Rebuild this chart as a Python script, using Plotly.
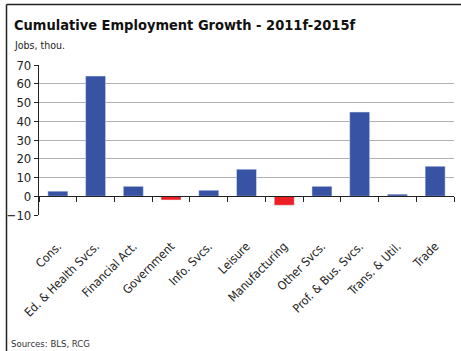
import plotly.graph_objects as go

categories = ["Cons.", "Ed. & Health Svcs.", "Financial Act.", "Government",
              "Info. Svcs.", "Leisure", "Manufacturing", "Other Svcs.",
              "Prof. & Bus. Svcs.", "Trans. & Util.", "Trade"]
jobs_thou = [2.7, 64.1, 5.3, -2.0, 3.2, 14.4, -4.8, 5.3, 44.9, 1.1, 16.0]
y_ticks = [-10, 0, 10, 20, 30, 40, 50, 60, 70]

BLUE = "#3953a4"
RED = "#ed1f24"
FONT = "DejaVu Sans Condensed, Liberation Sans, sans-serif"

W, H = 461, 351
L, R, T, B = 39, 454, 65, 215  # plot area in pixels


def px(x):
    return (x - L) / (R - L)


def py(y):
    return (B - y) / (B - T)


colors = [BLUE if v >= 0 else RED for v in jobs_thou]

fig = go.Figure()
fig.add_trace(go.Bar(x=categories, y=jobs_thou, marker=dict(color=colors, line=dict(width=0)),
                     xaxis="x", yaxis="y", showlegend=False))
# invisible copy on the axis that sits on the zero line
fig.add_trace(go.Bar(x=categories, y=jobs_thou, marker=dict(color="rgba(0,0,0,0)"),
                     xaxis="x2", yaxis="y", showlegend=False, hoverinfo="skip"))

fig.update_layout(
    width=W, height=H,
    margin=dict(l=L, r=W - R, t=T, b=H - B),
    paper_bgcolor="white", plot_bgcolor="white",
    bargap=0.47,
    barmode="overlay",
    font=dict(family=FONT, color="#222222"),
    xaxis=dict(
        categoryorder="array", categoryarray=categories,
        showline=False, ticks="", showgrid=False, zeroline=False,
        tickangle=-45, tickfont=dict(size=12, family=FONT, color="#222222"),
        ticklabelstandoff=21,
    ),
    xaxis2=dict(
        overlaying="x", anchor="free", position=py(196),
        matches="x", categoryorder="array", categoryarray=categories,
        showline=True, linecolor="#222222", linewidth=1.2,
        ticks="outside", tickson="boundaries", ticklen=5, tickcolor="#222222",
        tickwidth=1, showticklabels=False, showgrid=False, zeroline=False,
    ),
    yaxis=dict(
        range=[-10, 70], tickvals=y_ticks,
        showgrid=True, gridcolor="#b0b0b0", gridwidth=1.4,
        zeroline=False,
        showline=True, linecolor="#222222", linewidth=1.2,
        ticks="outside", ticklen=4, tickcolor="#222222",
        tickfont=dict(size=13, family=FONT, color="#222222"),
    ),
)

fig.update_layout(
    annotations=[
        dict(text="<b>Cumulative Employment Growth - 2011f-2015f</b>",
             xref="paper", yref="paper", x=px(12), y=py(25),
             xanchor="left", yanchor="middle", showarrow=False,
             font=dict(size=14.5, family=FONT, color="#111111")),
        dict(text="Jobs, thou.", xref="paper", yref="paper", x=px(12), y=py(45),
             xanchor="left", yanchor="middle", showarrow=False,
             font=dict(size=10.5, family=FONT, color="#222222")),
        dict(text="Sources: BLS, RCG", xref="paper", yref="paper", x=px(9), y=py(343),
             xanchor="left", yanchor="middle", showarrow=False,
             font=dict(size=9.5, family=FONT, color="#333333")),
    ],
    shapes=[
        dict(type="line", xref="paper", yref="paper", x0=px(6.5), x1=px(461),
             y0=py(4.5), y1=py(4.5), line=dict(color="#222222", width=1.5)),
        dict(type="line", xref="paper", yref="paper", x0=px(6.5), x1=px(6.5),
             y0=py(4.5), y1=py(351), line=dict(color="#222222", width=1.5)),
    ],
)

fig.write_html("out.html")
